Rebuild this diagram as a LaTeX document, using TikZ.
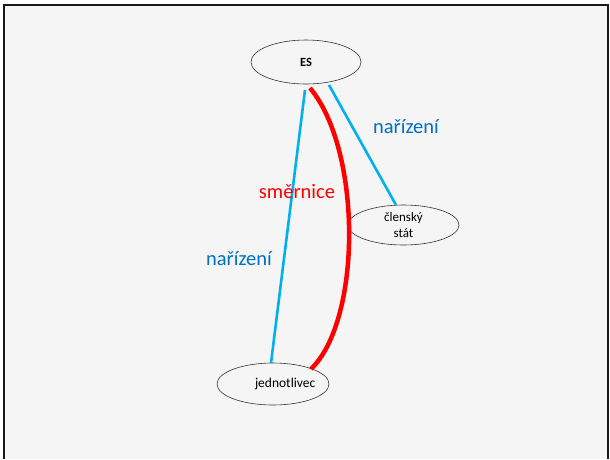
\documentclass[tikz,border=0pt]{standalone}
\usepackage{fontspec}
\setmainfont{Carlito}
\usetikzlibrary{shapes.geometric}
\definecolor{bg}{HTML}{F5F5F5}
\definecolor{lineblue}{HTML}{00B0F0}
\definecolor{textblue}{HTML}{0070C0}
\begin{document}
\begin{tikzpicture}[x=1pt,y=-1pt,
  oval/.style={draw=black!80,ellipse,fill=bg,line width=0.6pt,inner sep=0pt},
  bl/.style={lineblue,line width=2.6pt},
  lbl/.style={font=\fontsize{20.5}{24}\selectfont}]
\useasboundingbox (0,0) rectangle (610,459);
\fill[white] (0,0) rectangle (610,459);
\fill[bg] (4,5) rectangle (608,459);
\draw[line width=2pt,black!90] (4,459) -- (4,5) -- (608,5) -- (608,459);
\node[oval,minimum width=110pt,minimum height=44pt,font=\bfseries\fontsize{12.5}{14}\selectfont] (es) at (306,62) {ES};
\node[oval,minimum width=111pt,minimum height=40pt,align=center,font=\fontsize{13}{15.5}\selectfont] (cs) at (403.5,225) {členský\\stát};
\node[oval,minimum width=112pt,minimum height=42pt,font=\fontsize{13.5}{16}\selectfont] (jd) at (273,384) {\makebox[50pt][l]{\hspace{7pt}jednotlivec}};
\coordinate (es1) at (305,90);
\coordinate (es2) at (329,85);
\coordinate (es3) at (310,88);
\coordinate (jd1) at (271,363);
\coordinate (jd2) at (311,369);
\coordinate (cs1) at (396,205);
\draw[bl] (es1) -- (jd1);
\draw[bl] (es2) -- (cs1);
\draw[red,line width=4.5pt] (es3) .. controls (362,150) and (362,320) .. (jd2);
\node[lbl,textblue] (n1) at (406,127) {nařízení};
\node[lbl,red] (sm) at (297,192) {směrnice};
\node[lbl,textblue] (n2) at (239,259) {nařízení};
\end{tikzpicture}
\end{document}
